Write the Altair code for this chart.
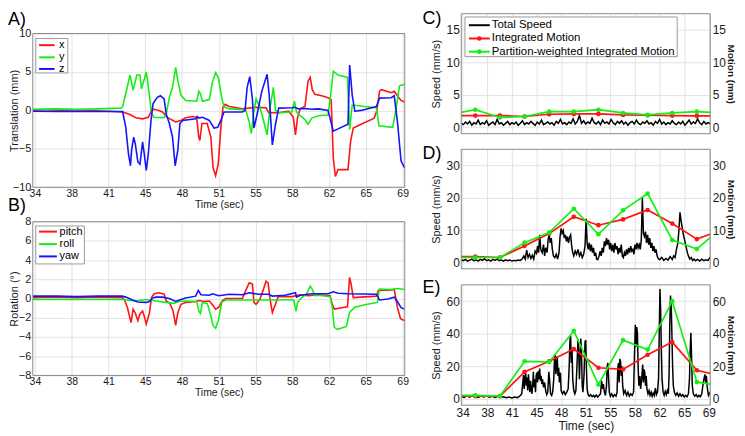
import altair as alt
import pandas as pd

FONT = "Liberation Sans"
RED = "#ff1414"
GREEN = "#14ee14"
BLUE = "#1414ff"
BLACK = "#000000"
FRAME = "#8a8a8a"
GRID = "#e3e3e3"
TXT = "#1a1a1a"

TIME_TICKS = [34, 37.5, 41, 44.5, 48, 51.5, 55, 58.5, 62, 65.5, 69]
TIME_LABELS = ["34", "38", "41", "45", "48", "51", "55", "58", "62", "65", "69"]
TIME_DOMAIN = [33.8, 69.2]

# ---------------- Panel A: translation (t, mm) ----------------
trans_x = [(33.8,-0.05),(35,-0.1),(36.5,-0.05),(38,-0.1),(39.5,-0.05),(41,-0.1),(42.35,-0.2),(43.0,-0.5),
           (43.6,-0.95),(44.25,-1.1),(44.8,-0.9),(45.1,0.0),(45.35,0.15),(45.8,0.0),(46.15,-0.2),(46.6,-0.9),
           (47.4,-1.5),(47.9,-1.3),(48.35,-0.95),(49.0,-0.8),(49.4,-0.9),(49.6,-3.5),(49.7,-3.9),(49.9,-1.7),
           (50.4,-1.7),(50.75,-3.5),(50.95,-7.4),(51.2,-8.5),(51.45,-7.0),(51.7,-2.2),(51.9,0.45),(52.1,0.8),
           (52.5,0.5),(53.75,0.2),(55.0,0.4),(56.0,0.35),(56.25,-0.3),(57.2,-0.3),(58.15,-0.1),(58.6,-0.9),
           (58.8,-3.2),(59.0,-0.9),(59.25,0.2),(59.7,0.5),(60.0,3.8),(60.2,4.3),(60.4,2.7),(60.65,2.1),
           (61.3,1.9),(61.9,1.65),(62.2,1.4),(62.4,-6.2),(62.6,-8.6),(62.85,-7.7),(63.8,-7.7),(64.05,-4.0),
           (64.3,-2.3),(65.05,-1.8),(66.3,-1.0),(66.55,0.0),(66.8,2.5),(67.0,2.7),(67.9,2.3),(68.2,2.5),
           (68.5,1.9),(68.85,1.3),(69.2,1.1)]
trans_y = [(33.8,0.15),(36,0.2),(38,0.15),(40,0.2),(42.2,0.3),(42.35,0.5),(42.7,2.5),(43.05,4.6),(43.35,2.6),
           (43.7,4.6),(44.0,4.6),(44.15,2.8),(44.6,5.0),(44.9,2.0),(45.1,-0.4),(45.35,-0.9),(46.3,-0.95),
           (46.5,-0.5),(46.8,1.7),(47.1,3.0),(47.4,5.6),(47.6,3.9),(47.9,2.0),(48.35,1.3),(49.4,1.2),(49.6,2.5),
           (49.75,2.2),(49.95,1.2),(50.6,1.4),(50.9,3.7),(51.2,4.9),(51.45,4.3),(51.8,1.5),(52.0,0.5),(52.5,0.2),
           (54.05,0.1),(54.4,-1.5),(54.6,-3.0),(54.8,-0.5),(55.05,1.5),(55.4,0.5),(55.8,-1.5),(56.1,-3.2),
           (56.4,0.5),(56.7,3.0),(56.9,0.0),(57.2,-0.3),(58.45,-0.2),(58.7,1.2),(58.9,-0.2),(59.1,-0.5),
           (59.7,-1.2),(60.0,-1.8),(60.35,-1.0),(61.0,-0.7),(61.9,-0.6),(62.15,2.0),(62.4,5.1),(62.85,4.6),
           (63.75,4.3),(63.95,-2.5),(64.2,0.7),(65.4,0.5),(66.5,0.35),(66.75,-2.0),(68.05,-2.2),(68.35,0.0),
           (68.7,3.2),(69.2,3.4)]
trans_z = [(33.8,-0.1),(36,-0.15),(38,-0.1),(40,-0.15),(42.35,-0.15),(42.65,-2.2),(42.9,-5.6),(43.1,-7.2),
           (43.2,-5.2),(43.4,-3.5),(43.55,-4.3),(43.8,-6.7),(44.0,-7.0),(44.25,-4.1),(44.4,-5.6),(44.6,-7.8),
           (44.8,-5.6),(45.05,-1.3),(45.25,0.9),(45.65,1.7),(45.95,1.9),(46.3,1.5),(46.5,-0.5),(46.8,-1.7),
           (47.1,-3.5),(47.35,-7.2),(47.6,-5.2),(47.8,-1.7),(48.05,-1.3),(49.3,-1.1),(49.45,-0.8),(49.6,-1.0),
           (49.95,-0.9),(50.6,-1.3),(51.05,-2.3),(51.4,-2.2),(51.7,-1.3),(52.0,-0.2),(53.75,-0.2),(54.0,0.0),
           (54.2,3.0),(54.45,4.4),(54.7,1.5),(54.85,-2.3),(55.15,-0.5),(55.6,2.5),(56.1,4.7),(56.3,2.0),
           (56.6,-4.5),(56.9,-1.8),(57.2,0.3),(58.45,0.35),(58.75,0.4),(59.1,0.2),(59.7,0.25),(60.35,0.15),
           (61.0,0.2),(61.9,0.0),(62.4,-2.7),(62.7,-2.5),(63.8,-1.8),(63.96,5.9),(64.2,2.0),(64.45,-0.1),
           (65.05,0.0),(66.5,0.5),(66.8,1.6),(67.9,1.65),(68.2,1.9),(68.5,-1.4),(68.85,-6.6),(69.2,-7.5)]

# ---------------- Panel B: rotation (t, deg) ----------------
rot_pitch = [(33.8,0.1),(36,0.15),(38,0.1),(40,0.15),(42.3,0.1),(42.5,-0.1),(42.8,-0.9),(43.15,-2.5),
             (43.35,-1.1),(43.55,-1.5),(43.8,-2.3),(44.0,-1.6),(44.25,-1.3),(44.4,-1.8),(44.6,-2.65),
             (44.9,-1.5),(45.1,0.1),(45.35,0.5),(45.8,0.6),(46.3,0.45),(46.5,-0.25),(46.85,-0.5),(47.15,-1.3),
             (47.4,-2.8),(47.6,-1.5),(47.9,-0.6),(48.35,-0.4),(49.3,-0.3),(49.6,-0.2),(50.1,-0.3),(50.6,-0.25),
             (50.9,-0.65),(51.2,-1.1),(51.5,-0.9),(51.85,-0.2),(52.15,0.0),(53.75,0.0),(54.05,0.8),(54.4,1.65),
             (54.7,1.5),(54.85,-0.4),(55.05,-0.6),(55.4,-0.1),(55.7,0.8),(56.0,1.8),(56.2,1.6),(56.4,-0.2),
             (56.6,-1.45),(56.9,-0.6),(57.15,0.2),(58.45,0.2),(59.25,0.4),(60.0,0.3),(61.0,0.4),(62.1,0.3),
             (62.3,-0.6),(62.5,-1.1),(63.2,-0.95),(63.75,-0.85),(63.95,2.2),(64.1,1.5),(64.3,0.1),(66.5,0.25),
             (66.7,0.85),(67.9,0.9),(68.2,0.95),(68.5,-0.9),(68.8,-2.1),(69.2,-2.3)]
rot_roll = [(33.8,-0.1),(36,-0.1),(38,-0.1),(40,-0.1),(42.3,-0.1),(43.6,-0.25),(44.6,-0.1),(45.5,-0.25),
            (46.45,-0.4),(47.25,-0.5),(47.7,-0.3),(48.35,-0.25),(49.4,-0.3),(49.6,-1.3),(49.75,-1.55),
            (49.95,-0.4),(50.4,-0.5),(50.75,-1.8),(50.95,-2.8),(51.2,-3.1),(51.45,-2.3),(51.8,-0.35),
            (52.15,-0.15),(55.3,-0.15),(57.2,-0.15),(58.45,-0.1),(58.65,-0.2),(58.85,-1.3),(59.0,-0.4),
            (59.4,0.1),(59.85,0.45),(60.2,1.3),(60.4,0.95),(60.65,0.3),(61.0,0.35),(62.1,0.2),(62.3,-0.9),
            (62.5,-3.0),(62.8,-3.2),(63.65,-2.9),(63.95,-1.45),(64.45,-0.9),(65.4,-0.65),(66.6,-0.4),
            (66.8,1.0),(67.9,0.95),(68.5,1.05),(69.2,0.95)]
rot_yaw = [(33.8,0.25),(36,0.25),(38,0.2),(40,0.25),(42.3,0.25),(42.65,0.15),(43.3,-0.15),(43.8,-0.35),
           (44.6,-0.4),(44.9,-0.3),(45.2,0.05),(45.5,0.15),(46.15,0.15),(46.8,0.0),(47.4,-0.3),(47.9,-0.1),
           (48.35,0.05),(49.3,0.25),(49.55,0.85),(49.8,0.4),(50.6,0.35),(50.9,0.5),(51.5,0.3),(52.5,0.45),
           (53.75,0.4),(54.4,0.6),(55.3,0.45),(56.25,0.45),(56.6,0.25),(57.8,0.35),(58.8,0.6),(58.9,0.15),
           (59.25,0.35),(60.35,0.5),(61.9,0.5),(62.4,0.7),(62.85,0.55),(63.8,0.5),(66.5,0.45),(66.8,-0.15),
           (67.6,-0.05),(68.2,0.15),(68.5,-0.3),(68.85,-0.95),(69.2,-1.1)]

# ---------------- Panels C, D, E ----------------
speed_names = ["Total Speed", "Integrated Motion", "Partition-weighted Integrated Motion"]
motion_t = [32.3, 35.8, 39.3, 42.8, 46.3, 49.8, 53.3, 56.8, 60.3, 63.8, 67.3, 70.8]
c_integrated = [1.8, 1.8, 1.8, 1.65, 2.0, 2.05, 2.05, 1.9, 1.85, 1.8, 1.75, 1.75]
c_partition = [2.0, 2.7, 1.5, 1.65, 2.4, 2.4, 2.7, 2.2, 1.9, 2.2, 2.4, 2.2]
d_integrated = [1.75, 1.75, 1.5, 5.1, 8.9, 14.1, 11.5, 13.3, 16.2, 12.0, 7.2, 10.0]
d_partition = [1.5, 1.5, 1.5, 6.1, 9.2, 16.6, 8.7, 16.1, 21.3, 6.9, 4.1, 10.7]
e_integrated = [1.5, 1.5, 1.5, 16.5, 23.0, 30.5, 19.0, 18.0, 27.0, 34.8, 17.5, 13.8]
e_partition = [2.0, 2.0, 1.6, 23.0, 22.6, 41.7, 8.7, 36.0, 30.2, 60.0, 10.2, 7.8]

c_speed = [(33.8,.6),(34.1,.4),(34.4,.8),(34.7,.5),(35.0,.9),(35.3,.3),(35.6,.7),(35.9,.5),(36.2,1.1),(36.5,.4),
           (36.8,.7),(37.1,.5),(37.4,1.0),(37.7,.3),(38.0,.6),(38.3,.8),(38.6,.4),(38.9,1.2),(39.2,.5),(39.5,.7),
           (39.8,.3),(40.1,.6),(40.4,.9),(40.7,.4),(41.0,.7),(41.3,.5),(41.6,.8),(41.9,.3),(42.2,.6),(42.5,1.0),
           (42.8,.4),(43.1,.7),(43.4,.5),(43.7,.9),(44.0,.6),(44.3,.3),(44.6,.8),(44.9,.5),(45.2,1.1),(45.5,.4),
           (45.8,.6),(46.1,.8),(46.4,.5),(46.7,.7),(47.0,.3),(47.3,.9),(47.6,.6),(47.9,1.2),(48.2,.5),(48.5,.7),
           (48.8,.4),(49.1,.8),(49.4,.6),(49.7,1.3),(50.0,.5),(50.3,.9),(50.6,1.8),(50.9,.6),(51.2,1.0),(51.5,.5),
           (51.8,.8),(52.1,.6),(52.4,1.4),(52.7,.7),(53.0,.5),(53.3,.9),(53.6,.4),(53.9,1.1),(54.2,.6),(54.5,.8),
           (54.8,.5),(55.1,1.2),(55.4,.7),(55.7,.4),(56.0,.9),(56.3,.6),(56.6,1.0),(56.9,.5),(57.2,.8),(57.5,.3),
           (57.8,.7),(58.1,.9),(58.4,.5),(58.7,1.1),(59.0,.6),(59.3,.4),(59.6,.8),(59.9,.6),(60.2,1.0),(60.5,.5),
           (60.8,.7),(61.1,.3),(61.4,.9),(61.7,.6),(62.0,1.2),(62.3,.5),(62.6,.8),(62.9,.4),(63.2,.7),(63.5,.5),
           (63.8,1.0),(64.1,.6),(64.4,.4),(64.7,.8),(65.0,.5),(65.3,.9),(65.6,.3),(65.9,.7),(66.2,1.1),(66.5,.5),
           (66.8,.8),(67.1,.6),(67.4,1.3),(67.7,.7),(68.0,.4),(68.3,.9),(68.6,.5),(68.9,.7),(69.2,.5)]

d_speed = [(33.8,0.8),(34.1,0.5),(34.4,0.9),(34.7,0.4),(35.0,0.7),(35.3,1.0),(35.6,0.5),(35.9,0.8),(36.2,0.4),
           (36.5,0.9),(36.8,0.6),(37.1,1.1),(37.4,0.5),(37.7,0.8),(38.0,0.4),(38.3,0.9),(38.6,0.6),(38.9,1.0),
           (39.2,0.5),(39.5,0.7),(39.8,0.4),(40.1,0.8),(40.4,0.5),(40.7,0.7),(41.0,0.4),(41.3,0.6),(41.6,0.5),
           (41.9,0.7),(42.2,0.6),(42.5,1.2),(42.7,2.0),(42.9,1.0),(43.1,3.8),(43.3,1.5),(43.5,2.5),(43.7,1.2),
           (43.9,2.2),(44.1,1.0),(44.3,3.5),(44.5,2.8),(44.65,5.0),(44.8,3.0),(44.95,8.5),(45.1,4.0),(45.3,3.0),
           (45.5,5.5),(45.65,2.0),(45.8,4.5),(46.0,3.0),(46.15,7.0),(46.3,8.8),(46.45,6.0),(46.6,7.5),(46.75,4.0),
           (46.9,2.0),(47.1,1.5),(47.3,2.5),(47.5,1.0),(47.7,3.0),(47.85,8.0),(48.0,10.5),(48.15,9.0),(48.3,9.8),
           (48.45,7.5),(48.6,8.5),(48.75,6.5),(48.9,8.0),(49.05,6.0),(49.2,7.8),(49.35,8.5),(49.5,5.0),(49.65,3.0),
           (49.8,2.0),(50.0,3.5),(50.2,2.5),(50.4,4.0),(50.6,2.0),(50.8,3.0),(51.0,1.5),(51.2,2.5),(51.4,5.0),
           (51.55,13.5),(51.7,6.0),(51.85,4.0),(52.0,6.0),(52.15,3.5),(52.3,5.5),(52.45,3.0),(52.6,4.5),(52.75,2.0),
           (52.9,3.0),(53.05,1.0),(53.2,0.8),(53.4,2.0),(53.55,3.5),(53.7,2.0),(53.85,4.5),(54.0,3.0),(54.15,6.5),
           (54.3,5.0),(54.45,7.5),(54.6,5.5),(54.75,7.0),(54.9,4.0),(55.05,6.0),(55.2,3.5),(55.35,5.5),(55.5,3.0),
           (55.65,6.0),(55.8,4.0),(55.95,5.0),(56.1,2.5),(56.25,4.5),(56.4,3.0),(56.55,5.5),(56.7,2.0),(56.85,1.5),
           (57.0,3.0),(57.15,2.0),(57.3,4.0),(57.45,2.5),(57.6,4.5),(57.75,3.0),(57.9,5.0),(58.05,3.5),(58.2,4.0),
           (58.35,2.5),(58.5,5.5),(58.65,4.0),(58.8,6.0),(58.95,4.5),(59.1,5.5),(59.25,4.0),(59.4,7.0),(59.55,20.0),
           (59.7,9.0),(59.85,8.0),(60.0,9.5),(60.15,6.0),(60.3,8.5),(60.45,5.5),(60.6,7.5),(60.75,4.5),(60.9,6.0),
           (61.05,3.5),(61.2,5.0),(61.35,3.0),(61.5,4.0),(61.65,2.0),(61.8,1.2),(62.0,0.8),(62.3,1.5),(62.6,0.6),
           (62.9,1.2),(63.2,0.7),(63.5,1.8),(63.8,0.9),(64.0,2.0),(64.2,1.5),(64.4,4.0),(64.6,6.0),(64.75,10.0),
           (64.9,15.5),(65.05,13.0),(65.2,11.0),(65.35,9.0),(65.5,7.5),(65.65,6.0),(65.8,4.5),(65.95,3.0),
           (66.1,2.0),(66.3,1.0),(66.5,1.5),(66.7,0.6),(66.9,1.0),(67.1,0.5),(67.4,0.9),(67.7,0.4),(68.0,1.0),
           (68.3,0.5),(68.6,0.8),(68.9,0.6),(69.2,1.6)]

e_speed = [(33.8,1.5),(34.2,0.8),(34.6,1.8),(35.0,1.0),(35.4,2.0),(35.8,1.2),(36.2,0.8),(36.6,1.6),(37.0,1.0),
           (37.4,1.8),(37.8,0.9),(38.2,1.5),(38.6,0.8),(39.0,1.4),(39.4,0.7),(39.8,1.2),(40.2,0.6),(40.6,1.0),
           (41.0,0.5),(41.4,1.0),(41.8,0.6),(42.1,1.5),(42.4,3.0),(42.55,10.0),(42.65,14.5),(42.75,6.0),
           (42.85,12.0),(42.95,16.0),(43.05,8.0),(43.15,13.0),(43.25,5.0),(43.35,15.0),(43.45,9.0),(43.55,4.0),
           (43.65,11.0),(43.75,6.0),(43.85,3.0),(43.95,8.0),(44.05,16.5),(44.15,7.0),(44.25,12.0),(44.35,4.0),
           (44.45,14.0),(44.55,16.0),(44.65,10.0),(44.75,17.0),(44.85,12.0),(44.95,18.5),(45.05,11.0),(45.15,14.0),
           (45.25,9.0),(45.35,12.0),(45.5,7.0),(45.65,10.0),(45.8,5.0),(45.95,2.5),(46.1,4.0),(46.25,16.5),
           (46.35,12.0),(46.5,3.0),(46.65,2.0),(46.8,4.0),(46.95,12.0),(47.05,24.0),(47.15,27.0),(47.25,15.0),
           (47.35,20.0),(47.45,26.0),(47.55,14.0),(47.65,19.0),(47.75,10.0),(47.9,16.0),(48.0,5.0),(48.2,3.0),
           (48.4,4.5),(48.6,2.5),(48.8,4.0),(49.0,6.0),(49.15,20.0),(49.25,36.0),(49.35,38.5),(49.45,22.0),
           (49.55,30.0),(49.65,12.0),(49.8,5.0),(49.95,3.0),(50.1,5.0),(50.25,20.0),(50.4,36.5),(50.5,30.0),
           (50.6,12.0),(50.7,24.0),(50.8,37.0),(50.9,28.0),(51.0,8.0),(51.1,4.0),(51.25,14.0),(51.4,35.0),
           (51.5,36.0),(51.6,18.0),(51.7,6.0),(51.85,2.5),(52.0,1.5),(52.2,2.5),(52.4,1.2),(52.6,2.0),(52.8,1.0),
           (53.0,2.2),(53.2,1.0),(53.4,2.0),(53.6,3.0),(53.75,11.0),(53.9,6.0),(54.0,9.0),(54.15,4.0),(54.3,2.0),
           (54.45,8.0),(54.55,20.0),(54.65,22.0),(54.75,12.0),(54.85,4.0),(55.0,1.5),(55.2,3.0),(55.4,1.2),
           (55.6,2.5),(55.8,1.5),(55.95,4.0),(56.05,18.0),(56.15,22.0),(56.25,10.0),(56.35,24.5),(56.45,23.0),
           (56.55,14.0),(56.65,20.0),(56.75,8.0),(56.9,3.0),(57.1,5.0),(57.3,2.0),(57.5,4.0),(57.7,1.5),(57.9,3.0),
           (58.1,2.0),(58.3,4.0),(58.45,30.0),(58.55,45.5),(58.65,32.0),(58.75,44.0),(58.85,40.0),(58.95,20.0),
           (59.05,8.0),(59.2,14.0),(59.3,6.0),(59.45,12.0),(59.6,21.0),(59.7,10.0),(59.8,18.0),(59.9,16.0),
           (60.0,8.0),(60.1,14.0),(60.2,6.0),(60.35,3.0),(60.5,5.0),(60.65,2.0),(60.8,4.0),(60.95,1.5),(61.1,3.5),
           (61.25,2.0),(61.4,6.5),(61.55,2.5),(61.7,4.0),(61.85,12.0),(61.95,40.0),(62.05,67.5),(62.15,55.0),
           (62.25,30.0),(62.35,12.0),(62.5,4.0),(62.65,2.0),(62.8,4.5),(62.95,2.5),(63.1,5.0),(63.25,3.0),
           (63.35,15.0),(63.45,45.0),(63.55,63.5),(63.65,58.0),(63.75,40.0),(63.85,20.0),(63.95,8.0),(64.1,4.0),
           (64.3,2.0),(64.5,3.5),(64.7,1.5),(64.9,3.0),(65.1,1.5),(65.3,2.5),(65.5,1.0),(65.7,2.0),(65.9,1.2),
           (66.1,3.0),(66.25,12.0),(66.35,30.0),(66.45,40.5),(66.55,25.0),(66.65,8.0),(66.8,3.0),(67.0,1.5),
           (67.2,2.5),(67.4,1.0),(67.6,2.0),(67.8,1.2),(68.0,3.0),(68.15,8.0),(68.3,12.0),(68.45,15.0),
           (68.55,10.0),(68.65,14.0),(68.8,6.0),(68.95,2.0),(69.2,4.0)]

# ---------------- helpers ----------------
ONE = pd.DataFrame({"k": [0]})
LABEL_EXPR = "[" + ",".join("'%s'" % s for s in TIME_LABELS) + "][round((datum.value - 34) / 3.5)]"
XSCALE = alt.Scale(domain=TIME_DOMAIN, nice=False, zero=False)
LABEL_SIZE = 18


def long_df(named):
    rows = []
    for name, pairs in named:
        for t, v in pairs:
            rows.append({"t": t, "v": v, "series": name})
    return pd.DataFrame(rows)


def time_axis(show_labels, font_size, title_y, label_pad):
    common = dict(values=TIME_TICKS, grid=True, gridColor=GRID, ticks=False, domain=False)
    if show_labels:
        return alt.Axis(labelExpr=LABEL_EXPR, labelFontSize=font_size, labelPadding=label_pad,
                        labelFlush=False, labelOverlap=False, title="Time (sec)",
                        titleFontSize=font_size, titleFontWeight="normal", titleY=title_y, **common)
    return alt.Axis(labels=False, title=None, **common)


def value_axis(values, title, font_size, title_size, title_x, orient="left", grid=True, bold=False):
    return alt.Axis(orient=orient, values=values, grid=grid, gridColor=GRID, ticks=False, domain=False,
                    labelFontSize=font_size, labelPadding=2, labelFlush=False, labelOverlap=False,
                    title=title, titleFontSize=title_size,
                    titleFontWeight="bold" if bold else "normal", titleX=title_x)


def frame():
    return alt.Chart(ONE).mark_rect(fillOpacity=0, stroke=FRAME, strokeWidth=1).encode(
        x=alt.value(0), x2=alt.value("width"), y=alt.value(0), y2=alt.value("height"))


def panel_label(text, dx, dy):
    return alt.Chart(ONE).mark_text(align="left", baseline="top", fontSize=LABEL_SIZE, font=FONT,
                                    color=BLACK).encode(x=alt.value(dx), y=alt.value(dy), text=alt.value(text))


def legend(names, colors, markers, box, rows_y, line_x, text_x, font_size):
    x0, y0, x1, y1 = box
    out = [alt.Chart(ONE).mark_rect(fill="white", stroke="#9a9a9a", strokeWidth=1).encode(
        x=alt.value(x0), x2=alt.value(x1), y=alt.value(y0), y2=alt.value(y1))]
    for name, col, mk, ry in zip(names, colors, markers, rows_y):
        out.append(alt.Chart(ONE).mark_rule(color=col, strokeWidth=2).encode(
            x=alt.value(line_x[0]), x2=alt.value(line_x[1]), y=alt.value(ry)))
        if mk:
            out.append(alt.Chart(ONE).mark_circle(color=col, size=22, opacity=1).encode(
                x=alt.value((line_x[0] + line_x[1]) / 2), y=alt.value(ry)))
        out.append(alt.Chart(ONE).mark_text(align="left", baseline="middle", fontSize=font_size,
                                            font=FONT, color=BLACK).encode(
            x=alt.value(text_x), y=alt.value(ry), text=alt.value(name)))
    return out


def motion_panel(named, colors, ydom, yticks, ytitle, label, label_dy, leg_box, leg_rows, leg_line, leg_text, height):
    df = long_df(named)
    names = [n for n, _ in named]
    lines = alt.Chart(df).mark_line(strokeWidth=1.6, clip=True).encode(
        x=alt.X("t:Q", scale=XSCALE, axis=time_axis(True, 10.5, 12, 1)),
        y=alt.Y("v:Q", scale=alt.Scale(domain=ydom, nice=False, zero=False),
                axis=value_axis(yticks, ytitle, 11, 11, -13)),
        color=alt.Color("series:N", scale=alt.Scale(domain=names, range=colors), legend=None),
    )
    layers = [lines, frame()]
    layers += legend(names, colors, [False] * 3, leg_box, leg_rows, leg_line, leg_text, 11)
    layers.append(panel_label(label, -25, label_dy))
    return alt.layer(*layers).properties(width=375, height=height)


def speed_panel(speed, integ, part, ydom, yticks, label, label_dy, show_x, height, with_legend):
    xaxis = time_axis(show_x, 12, 16, 2)
    df_s = pd.DataFrame(speed, columns=["t", "v"])
    black = alt.Chart(df_s).mark_line(color=BLACK, strokeWidth=1.5, clip=True).encode(
        x=alt.X("t:Q", scale=XSCALE, axis=xaxis),
        y=alt.Y("v:Q", scale=alt.Scale(domain=ydom, nice=False, zero=False),
                axis=value_axis(yticks, "Speed (mm/s)", 12, 11, -20)),
    )
    df_m = long_df([(speed_names[1], list(zip(motion_t, integ))),
                    (speed_names[2], list(zip(motion_t, part)))])
    right_axis = value_axis(yticks, "Motion (mm)", 12, 10, 15, orient="right", grid=False, bold=True)
    mscale = alt.Scale(domain=ydom, nice=False, zero=False)
    color = alt.Color("series:N", scale=alt.Scale(domain=speed_names[1:], range=[RED, GREEN]), legend=None)
    mline = alt.Chart(df_m).mark_line(strokeWidth=1.7, clip=True).encode(
        x=alt.X("t:Q", scale=XSCALE, axis=xaxis), y=alt.Y("v:Q", scale=mscale, axis=right_axis), color=color)
    mpts = alt.Chart(df_m).mark_circle(size=22, opacity=1, clip=True).encode(
        x=alt.X("t:Q", scale=XSCALE, axis=xaxis), y=alt.Y("v:Q", scale=mscale, axis=right_axis), color=color)
    layers = [black, alt.layer(mline, mpts), frame()]
    if with_legend:
        layers += legend(speed_names, [BLACK, RED, GREEN], [False, True, True],
                         (3.7, 3.3, 217.7, 43.3), [11.6, 25, 38.3], (7.7, 28.7), 30.7, 11.5)
    layers.append(panel_label(label, -39, label_dy))
    return alt.layer(*layers).resolve_scale(y="independent").properties(width=251, height=height)


panel_a = motion_panel([("x", trans_x), ("y", trans_y), ("z", trans_z)], [RED, GREEN, BLUE],
                       [-10, 10], [-10, -5, 0, 5, 10], "Translation (mm)", "A)", -23,
                       (3, 5, 35.3, 39.7), [11.7, 24, 35.7], (6.3, 22), 26.3, 155)
panel_b = motion_panel([("pitch", rot_pitch), ("roll", rot_roll), ("yaw", rot_yaw)], [RED, GREEN, BLUE],
                       [-8, 8], [-8, -6, -4, -2, 0, 2, 4, 6, 8], "Rotation (°)", "B)", -25,
                       (3, 4.3, 52, 42.6), [10, 22.6, 35], (6.3, 24.3), 27, 155)

panel_c = speed_panel(c_speed, c_integrated, c_partition, [-1, 17.5], [0, 5, 10, 15], "C)", -3.7, False, 121, True)
panel_d = speed_panel(d_speed, d_integrated, d_partition, [-2, 35], [0, 10, 20, 30], "D)", -4, False, 120.5, False)
panel_e = speed_panel(e_speed, e_integrated, e_partition, [-4, 70], [0, 20, 40, 60], "E)", -6, True, 121.3, False)

# empty strip that lifts the right column above panel A
spacer = alt.Chart(ONE).mark_rect(opacity=0).encode(
    x=alt.value(0), x2=alt.value("width"), y=alt.value(0), y2=alt.value("height")
).properties(width=375, height=19.3)

RES = dict(x="independent", y="independent", color="independent")
left_inner = alt.vconcat(panel_a, panel_b, spacing=34.7, bounds="flush").resolve_scale(**RES)
left = alt.vconcat(spacer, left_inner, spacing=-23, bounds="full").resolve_scale(**RES)
right = alt.vconcat(panel_c, panel_d, panel_e, spacing=15.7, bounds="flush").resolve_scale(**RES)

chart = (
    alt.hconcat(left, right, spacing=14, bounds="full")
    .resolve_scale(**RES)
    .properties(padding={"left": 0, "top": 0, "right": 2, "bottom": 0})
    .configure(font=FONT)
    .configure_view(strokeWidth=0)
    .configure_axis(labelFont=FONT, titleFont=FONT, labelColor=TXT, titleColor=TXT)
)

chart.save("out.html", embed_options={"renderer": "svg", "actions": False})
